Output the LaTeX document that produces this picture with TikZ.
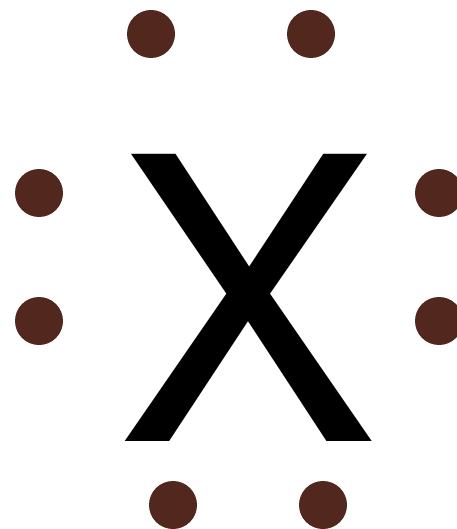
\documentclass[tikz,border=0pt]{standalone}
\usepackage{fontspec}
\setmainfont{TeX Gyre Heros}
\definecolor{dotbrown}{RGB}{82,39,30}
\tikzset{
  dot/.style={circle,fill=dotbrown,draw=none,minimum size=48pt,inner sep=0pt},
  atom/.style={font=\fontsize{394}{394}\selectfont,inner sep=0pt,anchor=base}
}
\begin{document}
\begin{tikzpicture}[x=1pt,y=-1pt]
\useasboundingbox (0,0) rectangle (456,529);
\node[atom] (X) at (248,441) {X};
% electron pairs
\node[dot] (t1) at (151,34) {};
\node[dot] (t2) at (311,34) {};
\node[dot] (l1) at (39,193) {};
\node[dot] (l2) at (39,321) {};
\node[dot] (r1) at (439,193) {};
\node[dot] (r2) at (439,321) {};
\node[dot] (b1) at (173,505) {};
\node[dot] (b2) at (323,505) {};
\end{tikzpicture}
\end{document}
